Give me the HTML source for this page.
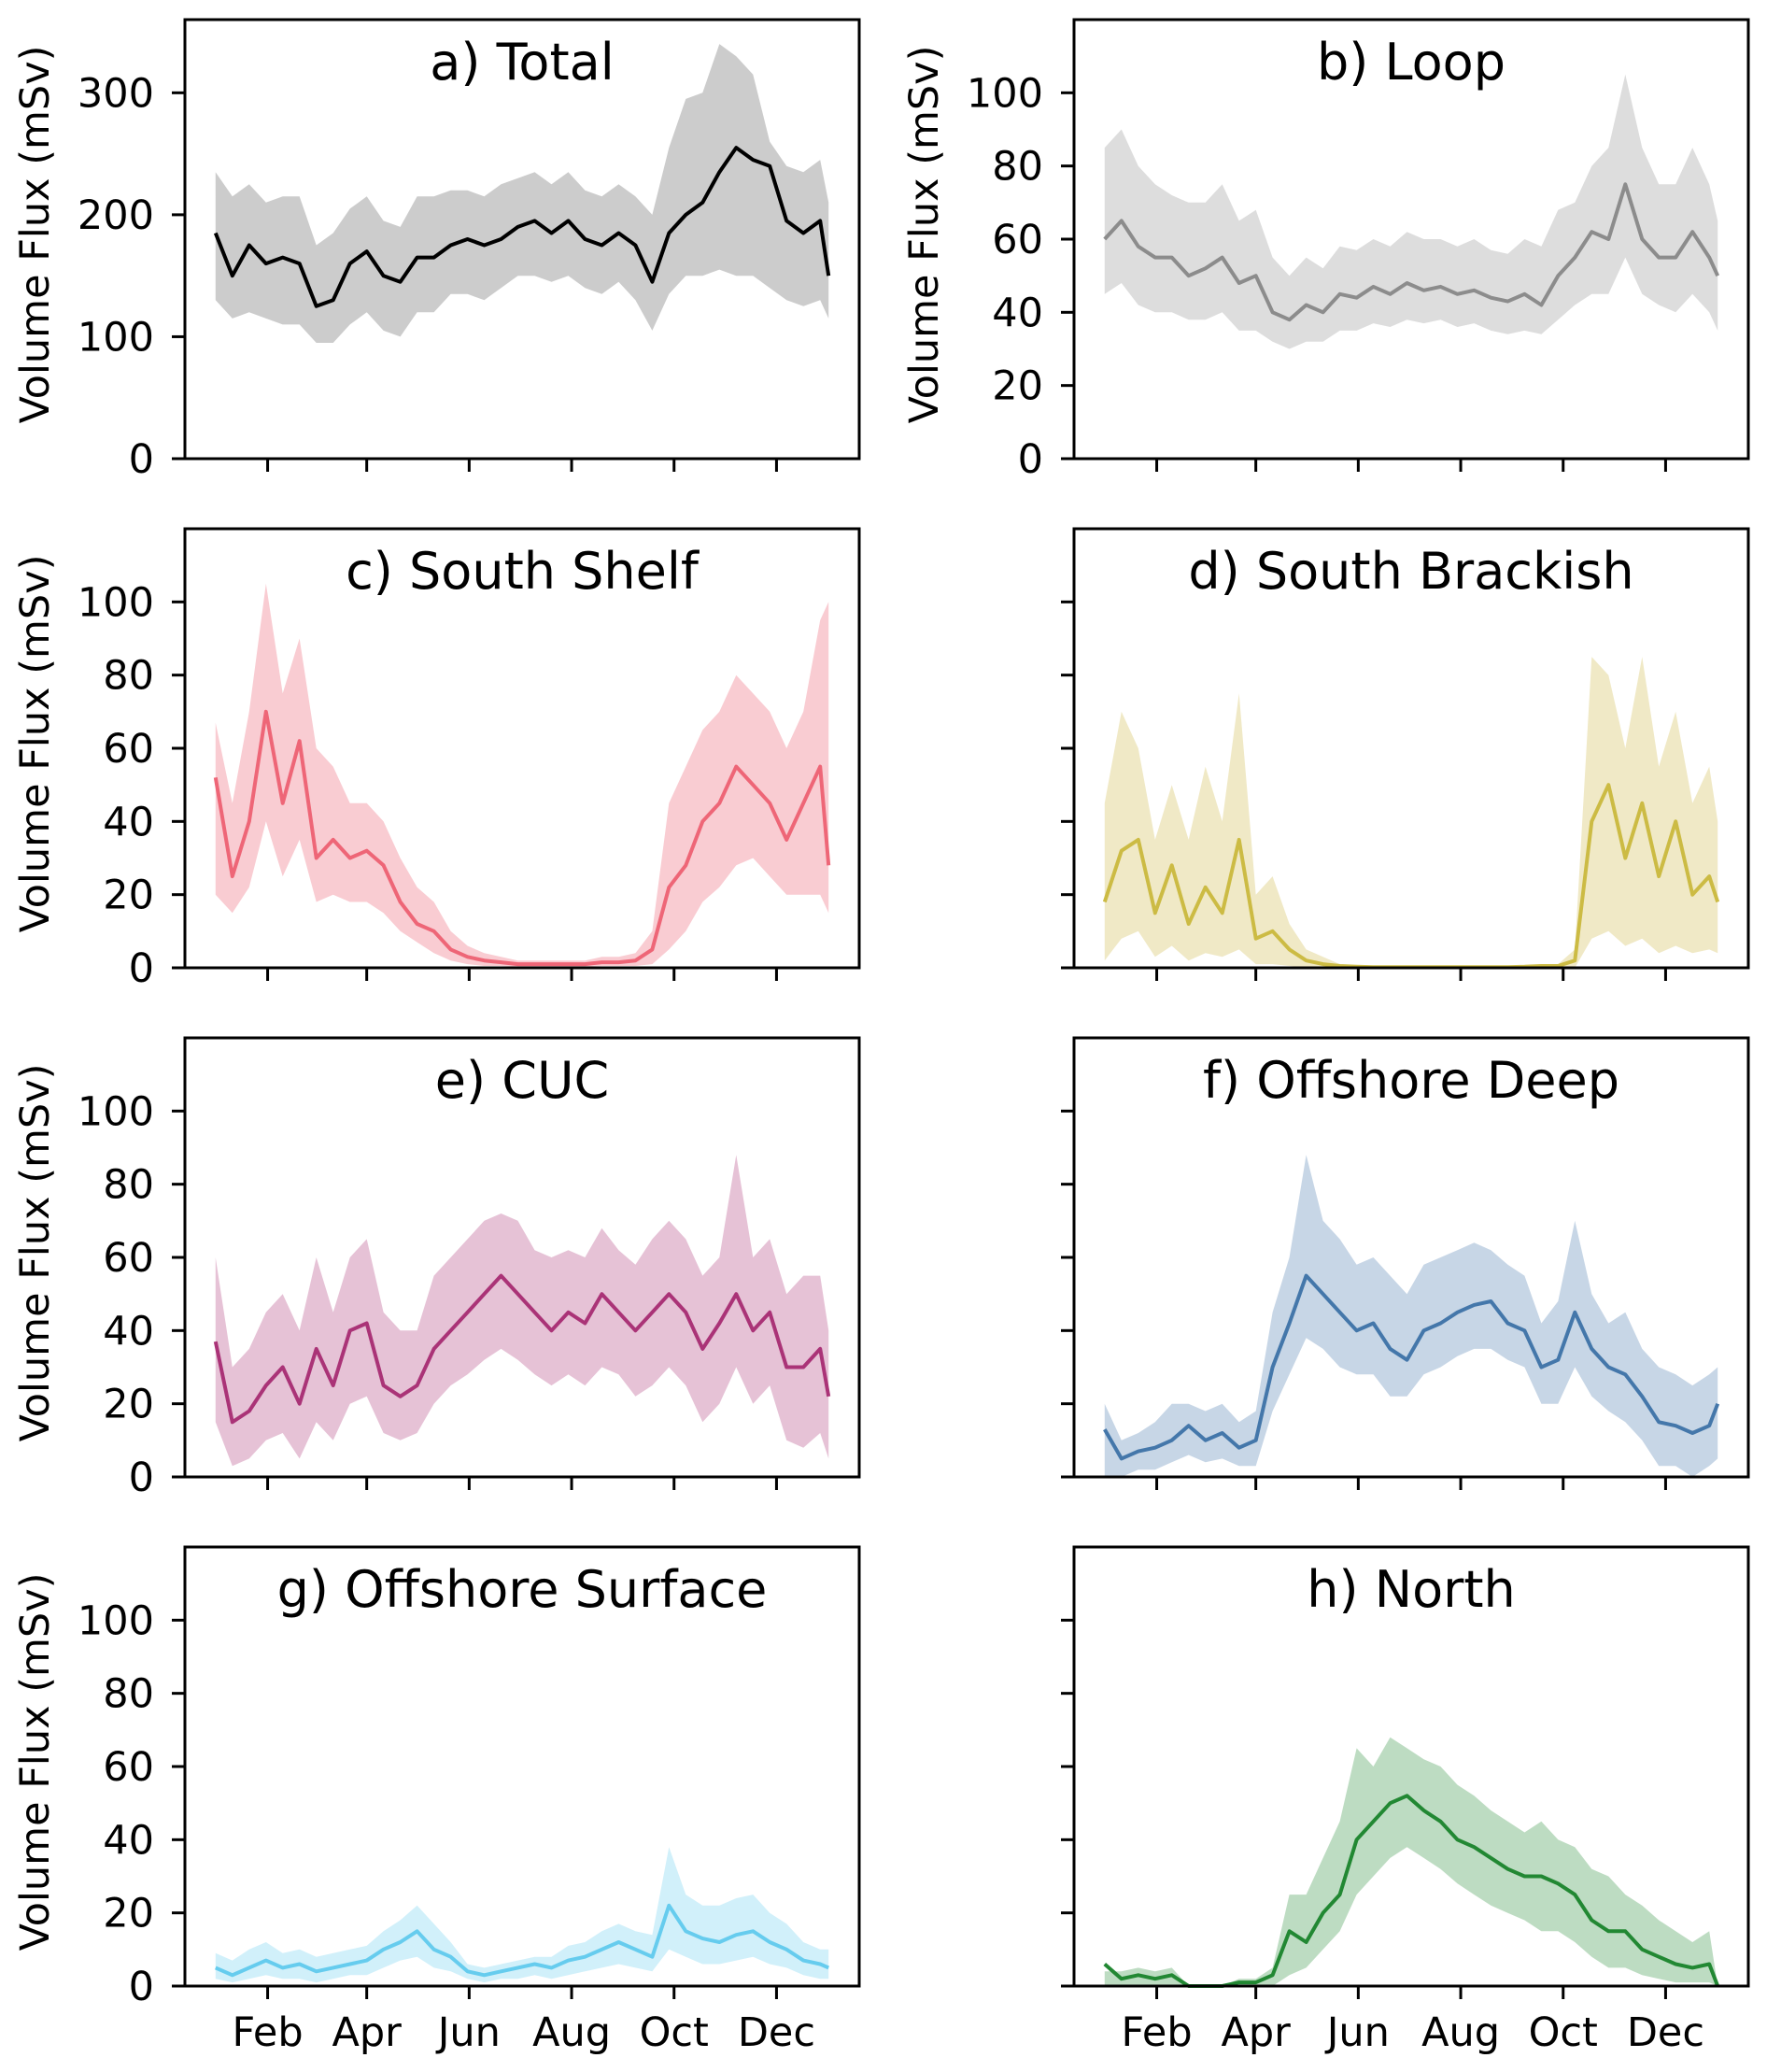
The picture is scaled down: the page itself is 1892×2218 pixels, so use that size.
<!DOCTYPE html>
<html><head><meta charset="utf-8">
<style>
html,body{margin:0;padding:0;background:#fff;}
svg{display:block;font-family:"DejaVu Sans","Liberation Sans",sans-serif;}
</style></head>
<body>
<svg id="fig" width="1892" height="2218" viewBox="0 0 1892 2218" xmlns="http://www.w3.org/2000/svg"></svg>
<script>
const days = [0,10,20,30,40,50,60,70,80,90,100,110,120,130,140,150,160,170,180,190,200,210,220,230,240,250,260,270,280,290,300,310,320,330,340,350,360,365];
const monthLabels = ["Feb","Apr","Jun","Aug","Oct","Dec"];
const monthDays = [31,90,151,212,273,334];
const ticksTotal = [0,100,200,300];
const ticksOther = [0,20,40,60,80,100];

const totalMean = [185,150,175,160,165,160,125,130,160,170,150,145,165,165,175,180,175,180,190,195,185,195,180,175,185,175,145,185,200,210,235,255,245,240,195,185,195,150];
const totalLo = [130,115,120,115,110,110,95,95,110,120,105,100,120,120,135,135,130,140,150,150,145,150,140,135,145,130,105,135,150,150,155,150,150,140,130,125,130,115];
const totalHi = [235,215,225,210,215,215,175,185,205,215,195,190,215,215,220,220,215,225,230,235,225,235,220,215,225,215,200,255,295,300,340,330,315,260,240,235,245,210];

const loopMean = [60,65,58,55,55,50,52,55,48,50,40,38,42,40,45,44,47,45,48,46,47,45,46,44,43,45,42,50,55,62,60,75,60,55,55,62,55,50];
const loopLo = [45,48,42,40,40,38,38,40,35,35,32,30,32,32,35,35,37,36,38,37,38,36,37,35,34,35,34,38,42,45,45,55,45,42,40,45,40,35];
const loopHi = [85,90,80,75,72,70,70,75,65,68,55,50,55,52,58,57,60,58,62,60,60,58,60,57,56,60,58,68,70,80,85,105,85,75,75,85,75,65];

const shelfMean = [52,25,40,70,45,62,30,35,30,32,28,18,12,10,5,3,2,1.5,1,1,1,1,1,1.5,1.5,2,5,22,28,40,45,55,50,45,35,45,55,28];
const shelfLo = [20,15,22,40,25,35,18,20,18,18,15,10,7,4,2,1,0.5,0.5,0.3,0.3,0.3,0.3,0.3,0.5,0.5,0.5,1,5,10,18,22,28,30,25,20,20,20,15];
const shelfHi = [67,45,70,105,75,90,60,55,45,45,40,30,22,18,10,6,4,3,2,2,2,2,2,3,3,4,10,45,55,65,70,80,75,70,60,70,95,100];

const brackMean = [18,32,35,15,28,12,22,15,35,8,10,5,2,1,0.5,0.3,0.2,0.2,0.2,0.2,0.2,0.2,0.2,0.2,0.2,0.3,0.5,0.5,2,40,50,30,45,25,40,20,25,18];
const brackLo = [2,8,10,3,6,2,4,3,5,1,1,0.5,0,0,0,0,0,0,0,0,0,0,0,0,0,0,0,0,0,8,10,6,8,4,6,4,5,4];
const brackHi = [45,70,60,35,50,35,55,40,75,20,25,12,5,3,1,0.5,0.5,0.5,0.5,0.5,0.5,0.5,0.5,0.5,0.5,0.5,1,1,5,85,80,60,85,55,70,45,55,40];

const cucMean = [37,15,18,25,30,20,35,25,40,42,25,22,25,35,40,45,50,55,50,45,40,45,42,50,45,40,45,50,45,35,42,50,40,45,30,30,35,22];
const cucLo = [15,3,5,10,12,5,15,10,20,22,12,10,12,20,25,28,32,35,32,28,25,28,25,30,28,22,25,30,25,15,20,30,20,25,10,8,12,5];
const cucHi = [60,30,35,45,50,40,60,45,60,65,45,40,40,55,60,65,70,72,70,62,60,62,60,68,62,58,65,70,65,55,60,88,60,65,50,55,55,40];

const deepMean = [13,5,7,8,10,14,10,12,8,10,30,42,55,50,45,40,42,35,32,40,42,45,47,48,42,40,30,32,45,35,30,28,22,15,14,12,14,20];
const deepLo = [0,0,2,2,4,6,4,5,3,3,18,28,38,35,30,28,28,22,22,28,30,33,35,35,32,30,20,20,30,22,18,15,10,3,3,0,3,5];
const deepHi = [20,10,12,15,20,20,18,20,15,18,45,60,88,70,65,58,60,55,50,58,60,62,64,62,58,55,42,48,70,50,42,45,35,30,28,25,28,30];

const surfMean = [5,3,5,7,5,6,4,5,6,7,10,12,15,10,8,4,3,4,5,6,5,7,8,10,12,10,8,22,15,13,12,14,15,12,10,7,6,5];
const surfLo = [2,1,2,3,2,2,1,2,3,3,5,7,8,5,4,2,1,2,2,3,2,3,4,5,6,5,4,10,8,6,6,7,8,6,5,3,2,2];
const surfHi = [9,7,10,12,9,10,8,9,10,11,15,18,22,17,12,6,5,6,7,8,8,11,12,15,17,15,14,38,25,22,22,24,25,20,17,12,10,10];

const northMean = [6,2,3,2,3,0,0,0,1,1,3,15,12,20,25,40,45,50,52,48,45,40,38,35,32,30,30,28,25,18,15,15,10,8,6,5,6,0];
const northLo = [0,0,0,0,0,0,0,0,0,0,0,3,5,10,15,25,30,35,38,35,32,28,25,22,20,18,15,15,12,8,5,5,3,2,1,1,1,0];
const northHi = [4,4,5,4,5,0,0,0,2,2,5,25,25,35,45,65,60,68,65,62,60,55,52,48,45,42,45,40,38,32,30,25,22,18,15,12,15,0];

const NS = "http://www.w3.org/2000/svg";
const svg = document.getElementById("fig");
function mk(tag, attrs, parent){
  const e = document.createElementNS(NS, tag);
  for (const k in attrs) e.setAttribute(k, attrs[k]);
  (parent||svg).appendChild(e);
  return e;
}
const PW = 722, PH = 470;
const lefts = [198, 1150];
const tops = [21, 566, 1111, 1656];
const panels = [
  {t:"a) Total", key:"total", mean:totalMean, lo:totalLo, hi:totalHi, ymax:360, ticks:ticksTotal, line:"#000000", band:"#cccccc", col:0,row:0, ylab:true, tl:true},
  {t:"b) Loop", key:"loop", mean:loopMean, lo:loopLo, hi:loopHi, ymax:120, ticks:ticksOther, line:"#8c8c8c", band:"#dddddd", col:1,row:0, ylab:true, tl:true},
  {t:"c) South Shelf", key:"south-shelf", mean:shelfMean, lo:shelfLo, hi:shelfHi, ymax:120, ticks:ticksOther, line:"#ee6677", band:"#f9ccd2", col:0,row:1, ylab:true, tl:true},
  {t:"d) South Brackish", key:"south-brackish", mean:brackMean, lo:brackLo, hi:brackHi, ymax:120, ticks:ticksOther, line:"#ccbb44", band:"#f0e9c6", col:1,row:1, ylab:false, tl:false},
  {t:"e) CUC", key:"cuc", mean:cucMean, lo:cucLo, hi:cucHi, ymax:120, ticks:ticksOther, line:"#aa3377", band:"#e6c2d6", col:0,row:2, ylab:true, tl:true},
  {t:"f) Offshore Deep", key:"offshore-deep", mean:deepMean, lo:deepLo, hi:deepHi, ymax:120, ticks:ticksOther, line:"#4477aa", band:"#c7d6e6", col:1,row:2, ylab:false, tl:false},
  {t:"g) Offshore Surface", key:"offshore-surface", mean:surfMean, lo:surfLo, hi:surfHi, ymax:120, ticks:ticksOther, line:"#66ccee", band:"#d1f0fa", col:0,row:3, ylab:true, tl:true},
  {t:"h) North", key:"north", mean:northMean, lo:northLo, hi:northHi, ymax:120, ticks:ticksOther, line:"#228833", band:"#bddcc2", col:1,row:3, ylab:false, tl:false}
];
const X0 = -18.25, X1 = 383.25;
panels.forEach(p => {
  const L = lefts[p.col], T = tops[p.row];
  const xs = d => L + (d - X0) / (X1 - X0) * PW;
  const ys = v => T + PH - v / p.ymax * PH;
  const g = mk("g", {});
  
  
  let dp = "";
  days.forEach((d,i)=>{ dp += (i?"L":"M") + xs(d).toFixed(1) + "," + ys(p.hi[i]).toFixed(1); });
  for (let i = days.length-1; i >= 0; i--) dp += "L" + xs(days[i]).toFixed(1) + "," + ys(p.lo[i]).toFixed(1);
  const band = mk("path", {d: dp + "Z", fill: p.band, stroke: "none"}, g);
  
  
  let lp = "";
  days.forEach((d,i)=>{ lp += (i?"L":"M") + xs(d).toFixed(1) + "," + ys(p.mean[i]).toFixed(1); });
  const line = mk("path", {d: lp, fill: "none", stroke: p.line, "stroke-width": 4, "stroke-linejoin": "round"}, g);
  
  
  const fr = mk("rect", {x: L, y: T, width: PW, height: PH, fill: "none", stroke: "#000", "stroke-width": 3}, g);
  
  
  p.ticks.forEach(v => {
    mk("line", {x1: L - 14, x2: L, y1: ys(v), y2: ys(v), stroke: "#000", "stroke-width": 3}, g);
    if (p.tl) {
      const tx = mk("text", {x: L - 33, y: ys(v) + 15, "text-anchor": "end", "font-size": 43, fill: "#000"}, g);
      tx.textContent = v;
      
      
    }
  });
  monthDays.forEach((d,i) => {
    mk("line", {x1: xs(d), x2: xs(d), y1: T + PH, y2: T + PH + 14, stroke: "#000", "stroke-width": 3}, g);
    if (p.row === 3) {
      const tx = mk("text", {x: xs(d), y: T + PH + 64, "text-anchor": "middle", "font-size": 43, fill: "#000"}, g);
      tx.textContent = monthLabels[i];
      
      
    }
  });
  const tt = mk("text", {x: L + PW/2, y: T + 64, "text-anchor": "middle", "font-size": 54, fill: "#000"}, g);
  tt.textContent = p.t;
  
  
  if (p.ylab) {
    const cx = p.col === 0 ? 38 : 990, cy = T + PH/2 - 5;
    const yl = mk("text", {x: cx, y: cy, "text-anchor": "middle", "font-size": 43, fill: "#000", transform: "rotate(-90 " + cx + " " + cy + ")", "dominant-baseline": "central"}, g);
    yl.textContent = "Volume Flux (mSv)";
    
    
  }
});
</script>
</body></html>
